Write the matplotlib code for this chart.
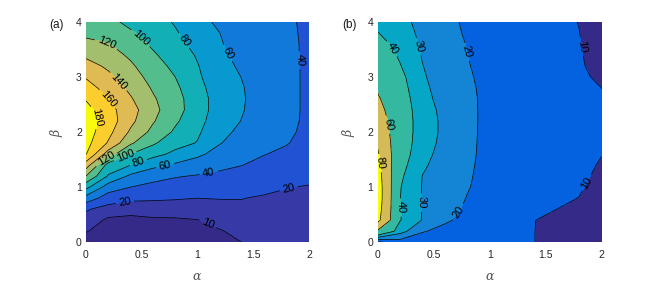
import numpy as np
import matplotlib
matplotlib.use("Agg")
import matplotlib.pyplot as plt
from matplotlib.colors import LinearSegmentedColormap

# ---------------- data ----------------
alpha = np.linspace(0, 2, 11)
beta = np.linspace(0, 4, 21)

# panel (a): one list per alpha column, values along beta = 0, 0.2, ..., 4
za_cols = [
    [5, 10.5, 13, 22, 52, 86, 120, 150, 181, 187, 190, 191, 187, 178.5, 168.5, 158.3, 147.2, 136.2, 125.4, 115, 108],
    [4, 6.5, 9, 13, 30, 50, 78, 92, 130, 158, 166, 171, 167, 160, 152, 144.3, 136.5, 128.6, 120.8, 112, 104],
    [3, 5.5, 8.5, 12, 23, 40, 56, 80, 100, 123, 137, 145, 148, 142, 135.6, 129.4, 123.1, 116.4, 109.1, 101.8, 96],
    [3, 5.9, 8.7, 13.9, 21.8, 33.9, 47.7, 65, 87, 103, 114.7, 122, 126, 122.5, 117.9, 112.7, 107.5, 102.3, 97, 93, 89],
    [3.5, 6.2, 8.9, 14, 21, 31, 41.5, 57, 75.2, 87.3, 97, 103, 107, 107, 104, 100, 95.6, 91.1, 86.7, 82.2, 78],
    [4, 6.9, 9.7, 14.7, 20, 29.3, 38.6, 51, 63.9, 79, 83, 87, 90, 89, 86, 83, 81, 78, 73, 69, 65],
    [6, 9.3, 12.9, 16.5, 20.4, 28.2, 36.1, 44.3, 53, 61, 65, 68, 70, 71, 70, 68, 66, 63.5, 61.5, 60, 57],
    [10.1, 12.6, 15.1, 17.6, 20.3, 27, 33.7, 40.3, 46, 51, 56, 59.4, 61, 61.5, 61, 59.5, 57, 55, 52.5, 50, 48],
    [11, 12.8, 14.8, 16.6, 18.6, 23.2, 29, 34.7, 40.6, 45, 48, 50, 51.5, 52, 51.5, 50.5, 49, 47.5, 46, 44, 43],
    [12, 13.5, 15.2, 16.8, 18.4, 20.3, 25, 30, 36.2, 41, 43, 44.5, 45, 45, 45, 44.5, 44, 43, 42.5, 41.5, 40.8],
    [13, 14.5, 15.8, 17.2, 18.5, 19.4, 22.5, 26, 30, 33.5, 36, 36.5, 36.7, 36.7, 36.7, 37, 37.3, 37.7, 38, 38.5, 39],
]

# panel (b)
zb_cols = [
    [8, 57, 85, 88, 90, 90, 88, 85, 82, 78, 74, 70, 66, 62, 58.2, 54.6, 51, 47.4, 43.8, 40.2, 36.6],
    [15, 34, 40.5, 40.5, 40.2, 40.5, 42, 44, 46, 47, 47.5, 47.5, 47, 46, 44.5, 43, 40.5, 38.5, 36.5, 35, 33.5],
    [12, 21, 29.5, 29.5, 29.5, 29.5, 29.8, 31.5, 33, 34, 34.5, 34.5, 34, 33, 32, 31, 30.2, 29.3, 28.5, 27.5, 26.5],
    [11, 16, 22, 23.5, 24, 24.5, 25, 25.5, 26.5, 27.5, 28, 28, 27.5, 26.5, 26, 25.5, 25, 24.5, 24, 23, 22.5],
    [10.5, 13, 16, 18.5, 19.7, 20.5, 21, 21.5, 22, 22.3, 22.5, 22.5, 22.3, 22, 21.5, 21, 20.5, 20.1, 19.6, 19, 18.5],
    [10.5, 12, 14, 15.5, 16.5, 17, 17, 17, 17, 17, 17, 17.2, 17.4, 17.6, 17.7, 17.5, 17, 16.5, 16, 15.5, 15],
    [11, 12, 13, 14, 14.5, 15, 15, 15, 15, 15, 15, 15, 15, 15, 15, 15, 14.8, 14.5, 14, 13.5, 13],
    [10.05, 10.05, 10.1, 11, 12, 13, 13.5, 13.5, 13.5, 13.5, 13.5, 13.5, 13.5, 13.5, 13.5, 13.5, 13.3, 13, 12.8, 12.5, 12],
    [8, 8, 8.5, 9.98, 11, 11.8, 12.3, 12.5, 12.5, 12.5, 12.5, 12.5, 12.5, 12.5, 12.5, 12.3, 12, 11.8, 11.5, 11.2, 11],
    [7, 7, 7.5, 8.5, 9.9, 10.5, 11, 11.2, 11.2, 11.2, 11.2, 11.2, 11.2, 11.2, 11.2, 11, 10.7, 10.5, 10.3, 10.05, 9.9],
    [6, 6, 6.5, 7, 7.8, 8.3, 9, 9.6, 10.1, 10.4, 10.5, 10.5, 10.4, 10.2, 9.98, 9, 8, 7.5, 7, 6.8, 6.5],
]

levels_a = [10, 20, 40, 60, 80, 100, 120, 140, 160, 180]
levels_b = [10, 20, 30, 40, 60, 80]

xticks = [0, 0.5, 1, 1.5, 2]
xticklabels = ["0", "0.5", "1", "1.5", "2"]
yticks = [0, 1, 2, 3, 4]
yticklabels = ["0", "1", "2", "3", "4"]

# ---------------- parula colormap ----------------
parula = np.array([
    [0.2081, 0.1663, 0.5292], [0.2116, 0.1898, 0.5777], [0.2123, 0.2138, 0.6270], [0.2081, 0.2386, 0.6771],
    [0.1959, 0.2645, 0.7279], [0.1707, 0.2919, 0.7792], [0.1253, 0.3242, 0.8303], [0.0591, 0.3598, 0.8683],
    [0.0117, 0.3875, 0.8820], [0.0060, 0.4086, 0.8828], [0.0165, 0.4266, 0.8786], [0.0329, 0.4430, 0.8720],
    [0.0498, 0.4586, 0.8641], [0.0629, 0.4737, 0.8554], [0.0723, 0.4887, 0.8467], [0.0779, 0.5040, 0.8384],
    [0.0793, 0.5200, 0.8312], [0.0749, 0.5375, 0.8263], [0.0641, 0.5570, 0.8240], [0.0488, 0.5772, 0.8228],
    [0.0343, 0.5966, 0.8199], [0.0265, 0.6137, 0.8135], [0.0239, 0.6287, 0.8038], [0.0231, 0.6418, 0.7913],
    [0.0228, 0.6535, 0.7768], [0.0267, 0.6642, 0.7607], [0.0384, 0.6743, 0.7436], [0.0590, 0.6838, 0.7254],
    [0.0843, 0.6928, 0.7062], [0.1133, 0.7015, 0.6859], [0.1453, 0.7098, 0.6646], [0.1801, 0.7177, 0.6424],
    [0.2178, 0.7250, 0.6193], [0.2586, 0.7317, 0.5954], [0.3022, 0.7376, 0.5712], [0.3482, 0.7424, 0.5473],
    [0.3953, 0.7459, 0.5244], [0.4420, 0.7481, 0.5033], [0.4871, 0.7491, 0.4840], [0.5300, 0.7491, 0.4661],
    [0.5709, 0.7485, 0.4494], [0.6099, 0.7473, 0.4337], [0.6473, 0.7456, 0.4188], [0.6834, 0.7435, 0.4044],
    [0.7184, 0.7411, 0.3905], [0.7525, 0.7384, 0.3768], [0.7858, 0.7356, 0.3633], [0.8185, 0.7327, 0.3498],
    [0.8507, 0.7299, 0.3360], [0.8824, 0.7274, 0.3217], [0.9139, 0.7258, 0.3063], [0.9450, 0.7261, 0.2886],
    [0.9739, 0.7314, 0.2666], [0.9938, 0.7455, 0.2403], [0.9990, 0.7653, 0.2164], [0.9955, 0.7861, 0.1967],
    [0.9880, 0.8066, 0.1794], [0.9789, 0.8271, 0.1633], [0.9697, 0.8481, 0.1475], [0.9626, 0.8705, 0.1309],
    [0.9589, 0.8949, 0.1132], [0.9598, 0.9218, 0.0948], [0.9661, 0.9514, 0.0755], [0.9763, 0.9831, 0.0538],
])
pcmap = LinearSegmentedColormap.from_list("parula", parula)

plt.rcParams['font.family'] = ['Liberation Sans', 'DejaVu Sans']
plt.rcParams['mathtext.fontset'] = 'dejavuserif'

fig = plt.figure(figsize=(6.64, 2.82), dpi=100)
ax_a = fig.add_axes([0.1295, 0.1408, 0.3358, 0.7823])
ax_b = fig.add_axes([0.5688, 0.1408, 0.3373, 0.7823])

A, B = np.meshgrid(alpha, beta)

lab_a = [(0.186, 3.6), (0.485, 3.69), (0.86, 3.63), (1.32, 3.48), (1.92, 3.3),
         (0.305, 2.94), (0.216, 2.64), (0.08, 2.25), (0.17, 1.54), (0.35, 1.57),
         (0.47, 1.44), (0.71, 1.40), (1.1, 1.26), (0.35, 0.71), (1.82, 0.97), (1.1, 0.36)]
lab_b = [(0.104, 3.48), (0.35, 3.54), (0.79, 3.45), (1.79, 3.54), (0.09, 2.13),
         (0.03, 1.44), (0.19, 0.63), (0.39, 0.72), (0.73, 0.54), (1.84, 1.11)]

tick_color = '#262626'

def draw(ax, cols, levels, labels, tag, tagx, cmin):
    Z = np.array(cols, dtype=float).T
    fl = [-1000] + levels + [1000]
    # each band takes the colour of its lower level, colour limits [cmin, top level]
    top = levels[-1]
    colors = [pcmap(0.0)] + [pcmap((L - cmin) / (top - cmin)) for L in levels]
    ax.contourf(A, B, Z, levels=fl, colors=colors)
    cs = ax.contour(A, B, Z, levels=levels, colors='k', linewidths=0.5)
    ax.clabel(cs, levels, manual=labels, inline=True, inline_spacing=3,
              fontsize=8, fmt='%d', colors='k')
    ax.set_xlim(0, 2)
    ax.set_ylim(0, 4)
    ax.set_xticks(xticks)
    ax.set_xticklabels(xticklabels)
    ax.set_yticks(yticks)
    ax.set_yticklabels(yticklabels)
    for s in ax.spines.values():
        s.set_visible(False)
    ax.tick_params(axis='x', length=0, labelsize=7.5, labelcolor=tick_color, pad=5.5)
    ax.tick_params(axis='y', length=0, labelsize=7.5, labelcolor=tick_color, pad=3)
    ax.set_xlabel(r'$\alpha$', fontsize=9, color='#555555', labelpad=8)
    ax.set_ylabel(r'$\beta$', fontsize=9, color='#555555', labelpad=8)
    ax.text(tagx, 0.985, tag, transform=ax.transAxes, fontsize=8.5, color='#1a1a1a',
            ha='left', va='center')

draw(ax_a, za_cols, levels_a, lab_a, '(a)', -0.163, 3.0)
draw(ax_b, zb_cols, levels_b, lab_b, '(b)', -0.157, 0.0)

fig.savefig('out.png', dpi=100)
